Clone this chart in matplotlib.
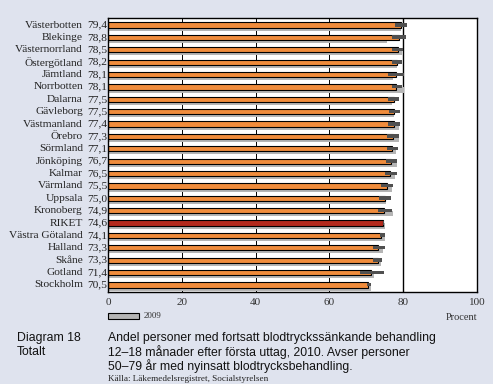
import matplotlib.pyplot as plt
import matplotlib.patches as mpatches

regions = ["Västerbotten", "Blekinge", "Västernorrland", "Östergötland", "Jämtland",
           "Norrbotten", "Dalarna", "Gävleborg", "Västmanland", "Örebro", "Sörmland",
           "Jönköping", "Kalmar", "Värmland", "Uppsala", "Kronoberg", "RIKET",
           "Västra Götaland", "Halland", "Skåne", "Gotland", "Stockholm"]
v2010 = [79.4, 78.8, 78.5, 78.2, 78.1, 78.1, 77.5, 77.5, 77.4, 77.3, 77.1,
         76.7, 76.5, 75.5, 75.0, 74.9, 74.6, 74.1, 73.3, 73.3, 71.4, 70.5]
v2009 = [79.4, 75.5, 79.6, 78.2, 77.3, 80.2, 77.1, 77.5, 78.9, 78.8, 78.0,
         78.4, 77.8, 77.1, 75.3, 77.2, 75.2, 75.2, 74.6, 74.1, 72.1, 71.4]
ci_lo = [77.8, 77.0, 77.0, 77.1, 76.0, 77.0, 76.0, 76.1, 76.0, 75.7, 75.7,
         75.3, 75.1, 74.0, 73.4, 73.2, 74.4, 73.7, 71.7, 71.9, 68.3, 70.1]
ci_hi = [80.9, 80.8, 80.0, 79.6, 80.3, 79.6, 78.9, 79.1, 79.0, 78.8, 78.5,
         78.2, 78.2, 77.2, 76.6, 77.1, 74.8, 75.1, 75.1, 74.2, 74.8, 71.4]
xticks = [0, 20, 40, 60, 80, 100]

bg = '#dfe3ee'
orange = '#f08c3c'
riket = '#b3291c'
grey = '#b5b5b5'
serif = 'Liberation Serif'
sans = 'Liberation Sans'

fig = plt.figure(figsize=(4.93, 3.84), dpi=100)
fig.patch.set_facecolor(bg)
ax = fig.add_axes([108 / 493, 1 - 292 / 384, 369 / 493, 274 / 384])
ax.set_facecolor('white')

ypos = list(range(len(regions)))
colors = [riket if r == "RIKET" else orange for r in regions]

for x in [20, 40, 60]:
    ax.axvline(x, color='black', lw=0.7, zorder=0.5)
ax.axvline(80, color='black', lw=1.0, zorder=0.5)

ax.barh([y + 0.22 for y in ypos], v2009, height=0.46, color=grey, zorder=1)
ax.barh(ypos, v2010, height=0.42, color=colors, edgecolor='black', lw=0.8, zorder=2)
ax.barh([y - 0.02 for y in ypos], [h - l for l, h in zip(ci_lo, ci_hi)], left=ci_lo,
        height=0.28, color='#505050', zorder=3)

ax.set_xlim(0, 100)
ax.set_ylim(21.57, -0.57)
ax.set_yticks([])
ax.set_xticks(xticks)
ax.set_xticklabels([str(t) for t in xticks], fontfamily=serif, fontsize=8, color='#333333')
ax.tick_params(axis='x', length=0, pad=4)
for s in ax.spines.values():
    s.set_color('black')
    s.set_linewidth(1.0)

for y, name, v in zip(ypos, regions, v2010):
    ax.text(-0.068, y, name, transform=ax.get_yaxis_transform(), ha='right', va='center',
            fontfamily=serif, fontsize=8.2, color='#222222')
    ax.text(-0.057, y, f"{v:.1f}".replace('.', ','), transform=ax.get_yaxis_transform(),
            ha='left', va='center', fontfamily=serif, fontsize=8.2, color='#222222')

# legend
fig.patches.append(mpatches.Rectangle((108 / 493, 1 - 319 / 384), 31 / 493, 6.5 / 384,
                                      transform=fig.transFigure, facecolor=grey,
                                      edgecolor='black', lw=0.8))
fig.text(144 / 493, 1 - 316 / 384, "2009", fontfamily=serif, fontsize=6.5, va='center',
         color='#333333')
fig.text(477 / 493, 1 - 317 / 384, "Procent", fontfamily=serif, fontsize=7.5, ha='right',
         va='center', color='#333333')

# caption
fig.text(17 / 493, 1 - 338 / 384, "Diagram 18", fontfamily=sans, fontsize=8.8,
         va='center', color='#111111')
fig.text(17 / 493, 1 - 352 / 384, "Totalt", fontfamily=sans, fontsize=8.8,
         va='center', color='#111111')
lines = ["Andel personer med fortsatt blodtryckssänkande behandling",
         "12–18 månader efter första uttag, 2010. Avser personer",
         "50–79 år med nyinsatt blodtrycksbehandling."]
for i, t in enumerate(lines):
    fig.text(108 / 493, 1 - (338 + 14 * i) / 384, t, fontfamily=sans, fontsize=8.8,
             va='center', color='#111111')
fig.text(108 / 493, 1 - 379 / 384, "Källa: Läkemedelsregistret, Socialstyrelsen",
         fontfamily=serif, fontsize=6.6, va='center', color='#222222')

fig.savefig("out.png", dpi=100, facecolor=bg)
